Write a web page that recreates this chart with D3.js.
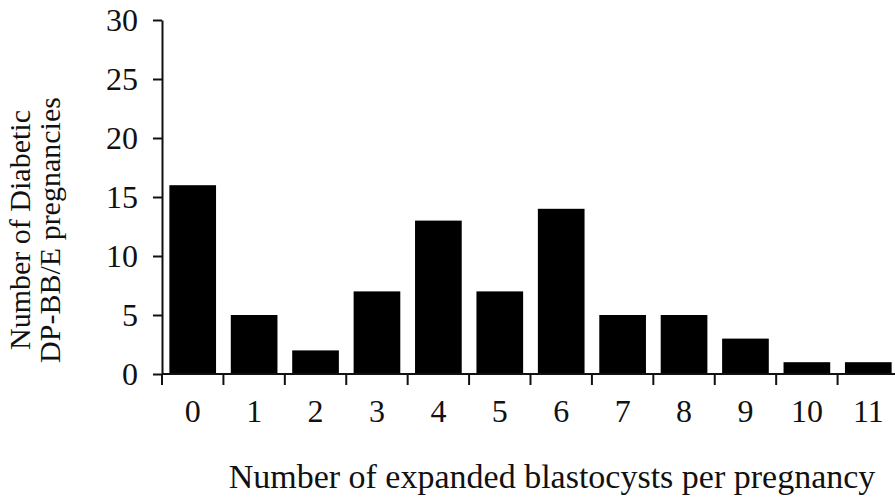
<!DOCTYPE html>
<html><head><meta charset="utf-8">
<script src="https://cdn.jsdelivr.net/npm/d3@7"></script>
<style>body{margin:0;background:#fff}svg{display:block}text{font-family:"Liberation Serif","Times New Roman",serif;fill:#111}</style>
</head><body>
<svg id="c" width="895" height="501"></svg>
<script>
const categories = ["0","1","2","3","4","5","6","7","8","9","10","11"];
const values = [16,5,2,7,13,7,14,5,5,3,1,1];
const yTicks = [0,5,10,15,20,25,30];
const xTitle = "Number of expanded blastocysts per pregnancy";
const yTitle = ["Number of Diabetic","DP-BB/E pregnancies"];

const svg = d3.select("#c");
const x0 = 162, x1 = 899, yTop = 20, yBot = 374;
const x = d3.scaleBand().domain(categories).range([x0, x1]).paddingInner(0.24).paddingOuter(0.12);
const y = d3.scaleLinear().domain([0,30]).range([yBot, yTop]);

svg.append("g").selectAll("rect").data(values).join("rect")
  .attr("x",(d,i)=>x(categories[i])).attr("width",x.bandwidth())
  .attr("y",d=>y(d)).attr("height",d=>y(0)-y(d)).attr("fill","#000");

// y axis
const ya = svg.append("g").attr("transform",`translate(${x0},0)`)
  .call(d3.axisLeft(y).tickValues(yTicks).tickSize(9).tickPadding(15).tickSizeOuter(0));
ya.select(".domain").attr("stroke","#111").attr("stroke-width",2);
ya.selectAll(".tick line").attr("stroke","#111").attr("stroke-width",2);
ya.selectAll(".tick text").style("font-size","32px").attr("fill","#111");

// x axis line
svg.append("line").attr("x1",x0).attr("x2",x1).attr("y1",yBot).attr("y2",yBot).attr("stroke","#111").attr("stroke-width",2);
// x ticks at band boundaries
const step = x.step();
const bounds = d3.range(0, categories.length).map(i => x(categories[i]) - x.paddingInner()*step/2);
svg.append("g").selectAll("line").data(bounds).join("line")
  .attr("x1",d=>d).attr("x2",d=>d).attr("y1",yBot).attr("y2",yBot+11).attr("stroke","#111").attr("stroke-width",2);
// x labels
svg.append("g").selectAll("text").data(categories).join("text")
  .attr("x",d=>x(d)+x.bandwidth()/2).attr("y",422).attr("text-anchor","middle")
  .style("font-size","32px").text(d=>d);

svg.append("text").attr("x",552).attr("y",488).attr("text-anchor","middle").style("font-size","34px").text(xTitle);

const yt = svg.append("text").attr("transform","translate(0,230) rotate(-90)").attr("text-anchor","middle").style("font-size","30px");
yt.append("tspan").attr("x",0).attr("y",30).text(yTitle[0]);
yt.append("tspan").attr("x",0).attr("y",60).text(yTitle[1]);
</script>
</body></html>
